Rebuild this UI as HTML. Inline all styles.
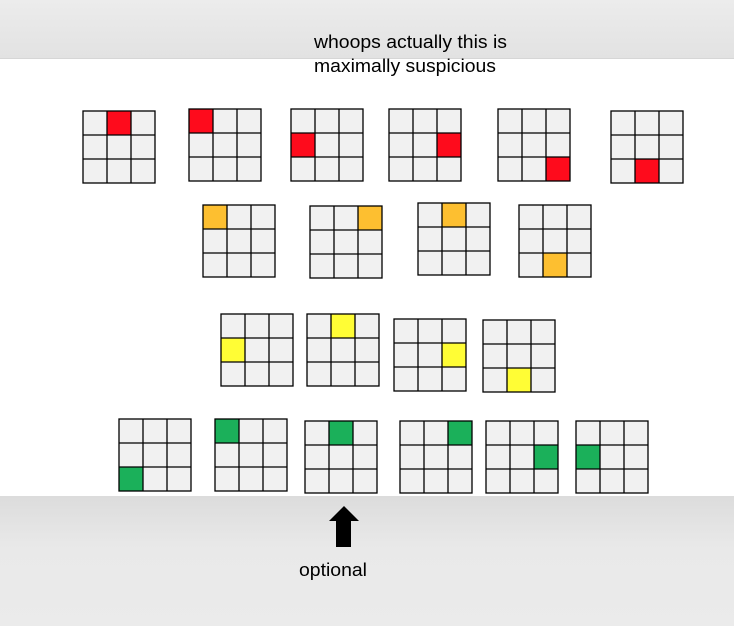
<!DOCTYPE html>
<html><head><style>
html,body{margin:0;padding:0;}
body{width:734px;height:626px;overflow:hidden;font-family:"Liberation Sans",sans-serif;}
</style></head><body>
<svg width="734" height="626" xmlns="http://www.w3.org/2000/svg" font-family="Liberation Sans, sans-serif">
<defs>
<linearGradient id="gt" x1="0" y1="0" x2="0" y2="1"><stop offset="0" stop-color="#ececec"/><stop offset="1" stop-color="#e2e2e2"/></linearGradient>
<linearGradient id="gb" x1="0" y1="0" x2="0" y2="1"><stop offset="0" stop-color="#dcdcdc"/><stop offset="0.4" stop-color="#e9e9e9"/><stop offset="1" stop-color="#ebebeb"/></linearGradient>
<g id="L" fill="none" stroke="#000" stroke-width="1.3">
<rect x="0" y="0" width="72" height="72"/>
<line x1="24" y1="0" x2="24" y2="72"/><line x1="48" y1="0" x2="48" y2="72"/>
<line x1="0" y1="24" x2="72" y2="24"/><line x1="0" y1="48" x2="72" y2="48"/>
</g>
</defs>
<rect x="0" y="0" width="734" height="59" fill="url(#gt)"/>
<rect x="0" y="58" width="734" height="1.5" fill="#d6d6d6"/>
<rect x="0" y="59" width="734" height="437" fill="#fff"/>
<rect x="0" y="496" width="734" height="130" fill="url(#gb)"/>
<text x="314" y="48" font-size="18" textLength="193" lengthAdjust="spacingAndGlyphs">whoops actually this is</text>
<text x="314" y="72" font-size="18" textLength="182" lengthAdjust="spacingAndGlyphs">maximally suspicious</text>

<g fill="#f1f1f1">
<g transform="translate(83,111)"><rect width="72" height="72"/><rect x="24" y="0" width="24" height="24" fill="#fe0b1c"/><use href="#L"/></g>
<g transform="translate(189,109)"><rect width="72" height="72"/><rect x="0" y="0" width="24" height="24" fill="#fe0b1c"/><use href="#L"/></g>
<g transform="translate(291,109)"><rect width="72" height="72"/><rect x="0" y="24" width="24" height="24" fill="#fe0b1c"/><use href="#L"/></g>
<g transform="translate(389,109)"><rect width="72" height="72"/><rect x="48" y="24" width="24" height="24" fill="#fe0b1c"/><use href="#L"/></g>
<g transform="translate(498,109)"><rect width="72" height="72"/><rect x="48" y="48" width="24" height="24" fill="#fe0b1c"/><use href="#L"/></g>
<g transform="translate(611,111)"><rect width="72" height="72"/><rect x="24" y="48" width="24" height="24" fill="#fe0b1c"/><use href="#L"/></g>
<g transform="translate(203,205)"><rect width="72" height="72"/><rect x="0" y="0" width="24" height="24" fill="#fdbf30"/><use href="#L"/></g>
<g transform="translate(310,206)"><rect width="72" height="72"/><rect x="48" y="0" width="24" height="24" fill="#fdbf30"/><use href="#L"/></g>
<g transform="translate(418,203)"><rect width="72" height="72"/><rect x="24" y="0" width="24" height="24" fill="#fdbf30"/><use href="#L"/></g>
<g transform="translate(519,205)"><rect width="72" height="72"/><rect x="24" y="48" width="24" height="24" fill="#fdbf30"/><use href="#L"/></g>
<g transform="translate(221,314)"><rect width="72" height="72"/><rect x="0" y="24" width="24" height="24" fill="#fffd35"/><use href="#L"/></g>
<g transform="translate(307,314)"><rect width="72" height="72"/><rect x="24" y="0" width="24" height="24" fill="#fffd35"/><use href="#L"/></g>
<g transform="translate(394,319)"><rect width="72" height="72"/><rect x="48" y="24" width="24" height="24" fill="#fffd35"/><use href="#L"/></g>
<g transform="translate(483,320)"><rect width="72" height="72"/><rect x="24" y="48" width="24" height="24" fill="#fffd35"/><use href="#L"/></g>
<g transform="translate(119,419)"><rect width="72" height="72"/><rect x="0" y="48" width="24" height="24" fill="#1bb05a"/><use href="#L"/></g>
<g transform="translate(215,419)"><rect width="72" height="72"/><rect x="0" y="0" width="24" height="24" fill="#1bb05a"/><use href="#L"/></g>
<g transform="translate(305,421)"><rect width="72" height="72"/><rect x="24" y="0" width="24" height="24" fill="#1bb05a"/><use href="#L"/></g>
<g transform="translate(400,421)"><rect width="72" height="72"/><rect x="48" y="0" width="24" height="24" fill="#1bb05a"/><use href="#L"/></g>
<g transform="translate(486,421)"><rect width="72" height="72"/><rect x="48" y="24" width="24" height="24" fill="#1bb05a"/><use href="#L"/></g>
<g transform="translate(576,421)"><rect width="72" height="72"/><rect x="0" y="24" width="24" height="24" fill="#1bb05a"/><use href="#L"/></g>
</g>

<polygon points="344,506 359,521 351,521 351,547 336,547 336,521 329,521" fill="#000"/>
<text x="299" y="576" font-size="18" textLength="68" lengthAdjust="spacingAndGlyphs">optional</text>
</svg>
</body></html>
